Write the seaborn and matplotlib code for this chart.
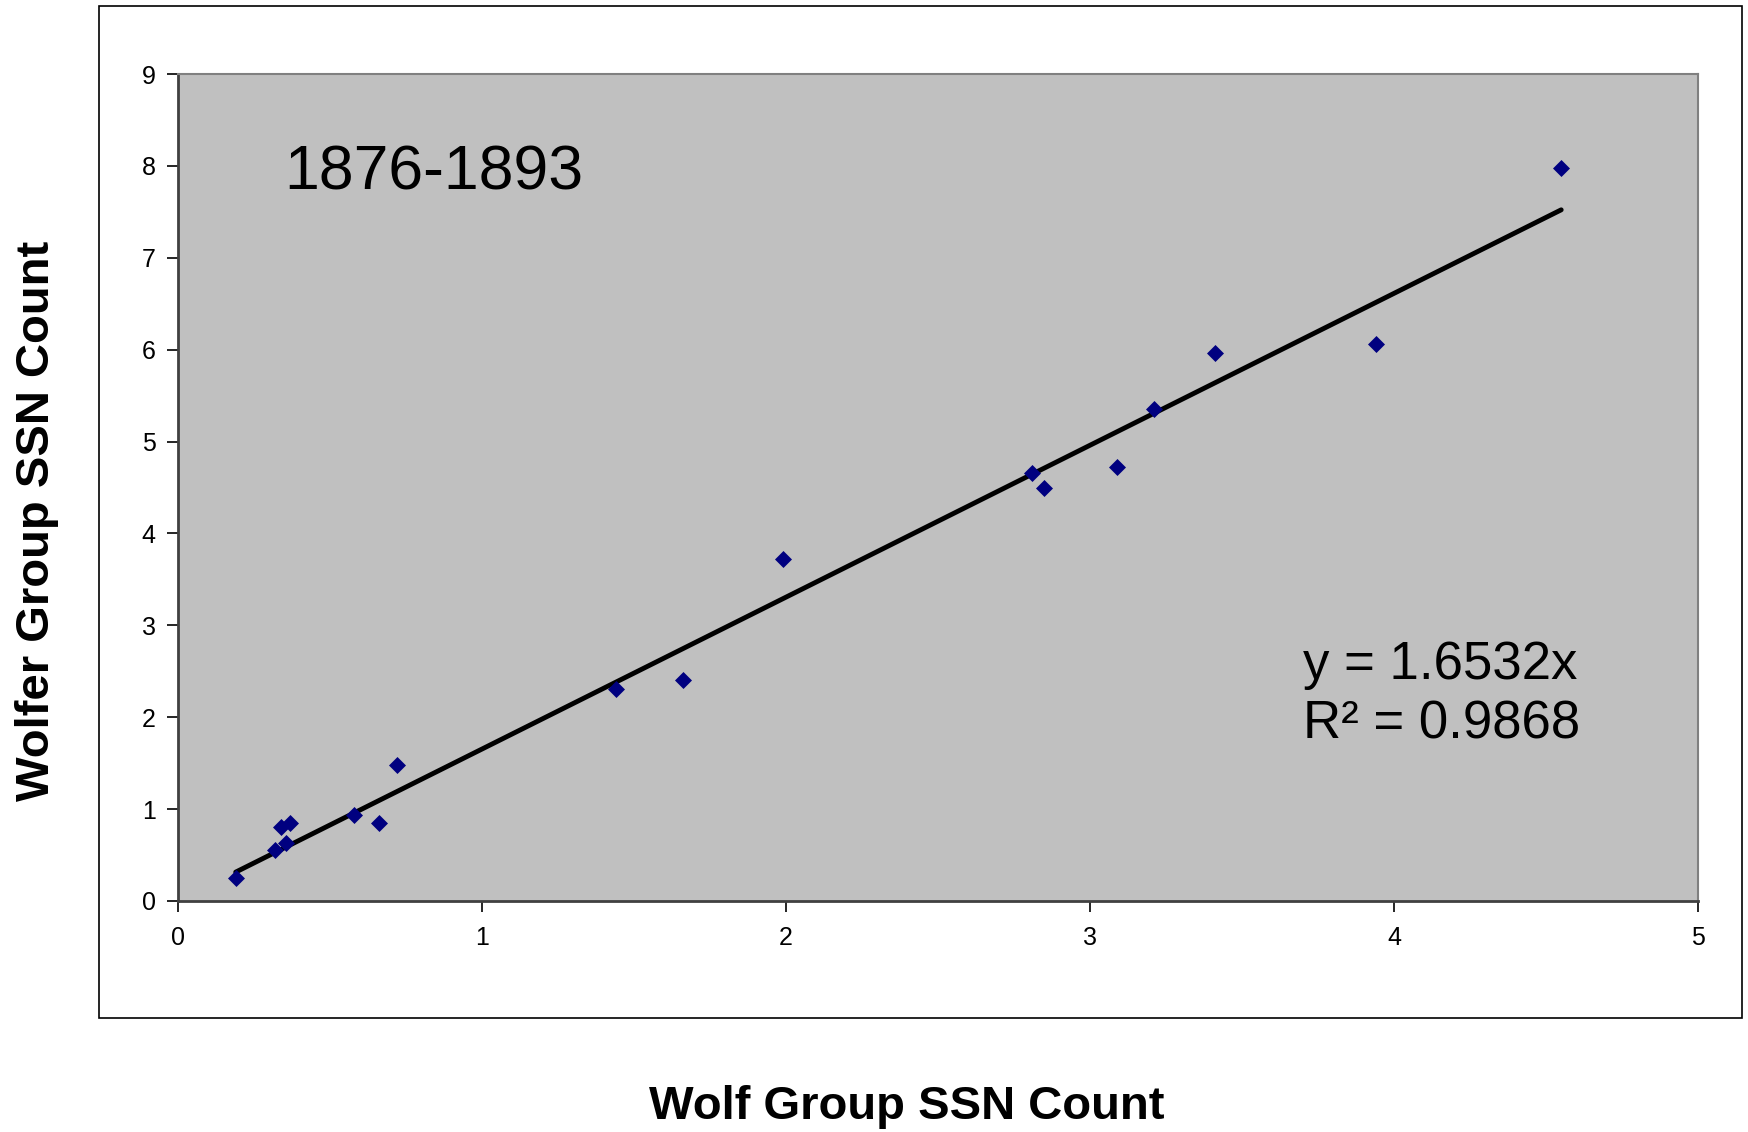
import numpy as np
import pandas as pd
import seaborn as sns
import matplotlib.pyplot as plt
from matplotlib.patches import Rectangle

sns.set_theme(style="white")
plt.rcParams["font.family"] = ["Liberation Sans", "DejaVu Sans"]
plt.rcParams["text.color"] = "black"
plt.rcParams["xtick.color"] = "black"
plt.rcParams["ytick.color"] = "black"

# =========================
# Data
# =========================
wolf = [0.19, 0.32, 0.34, 0.37, 0.356, 0.58, 0.66, 0.72, 1.44, 1.66,
        1.99, 2.81, 2.85, 3.09, 3.21, 3.41, 3.94, 4.55]
wolfer = [0.25, 0.56, 0.81, 0.85, 0.63, 0.935, 0.85, 1.48, 2.31, 2.40,
          3.72, 4.66, 4.49, 4.72, 5.35, 5.96, 6.06, 7.98]
slope = 1.6532
r2 = 0.9868
period = "1876-1893"
x_ticks = [0, 1, 2, 3, 4, 5]
y_ticks = [0, 1, 2, 3, 4, 5, 6, 7, 8, 9]

df = pd.DataFrame({"wolf": wolf, "wolfer": wolfer})
trend = pd.DataFrame({"x": [min(wolf), max(wolf)]})
trend["y"] = slope * trend["x"]

# =========================
# Figure
# =========================
fig = plt.figure(figsize=(17.48, 11.32), dpi=100)
ax = fig.add_axes([0.1018, 0.2041, 0.8696, 0.7305])

# outer chart frame
fig.patches.append(Rectangle((0.0566, 0.1007), 0.94, 0.894, transform=fig.transFigure,
                             fill=False, edgecolor="black", linewidth=1.2))

ax.set_facecolor("#C0C0C0")

sns.lineplot(data=trend, x="x", y="y", ax=ax, color="black", linewidth=3.5,
             solid_capstyle="round", zorder=2)
sns.scatterplot(data=df, x="wolf", y="wolfer", ax=ax, marker="D", s=75,
                color="#000080", linewidth=0, zorder=3)

ax.set_xlim(0, 5)
ax.set_ylim(0, 9)
ax.set_xticks(x_ticks)
ax.set_yticks(y_ticks)
ax.tick_params(axis="both", direction="out", length=8, width=1.2, labelsize=18,
               color="black", labelcolor="black", left=True, bottom=True)
ax.tick_params(axis="x", pad=10)
ax.tick_params(axis="y", pad=8)

for side in ["top", "right"]:
    ax.spines[side].set_color("#808080")
    ax.spines[side].set_linewidth(1.5)
for side in ["left", "bottom"]:
    ax.spines[side].set_color("#404040")
    ax.spines[side].set_linewidth(2)

ax.set_xlabel("")
ax.set_ylabel("")
fig.text(0.519, 0.022, "Wolf Group SSN Count", fontsize=34, fontweight="bold",
         ha="center", va="center")
fig.text(0.021, 0.54, "Wolfer Group SSN Count", fontsize=34, fontweight="bold",
         rotation=90, ha="center", va="center")

ax.text(0.07, 0.88, period, transform=ax.transAxes, fontsize=45,
        ha="left", va="center")
ax.text(0.74, 0.249, f"y = {slope:.4f}x\nR² = {r2:.4f}", transform=ax.transAxes,
        fontsize=38, ha="left", va="center", linespacing=1.25)

fig.savefig("out.png", dpi=100)
